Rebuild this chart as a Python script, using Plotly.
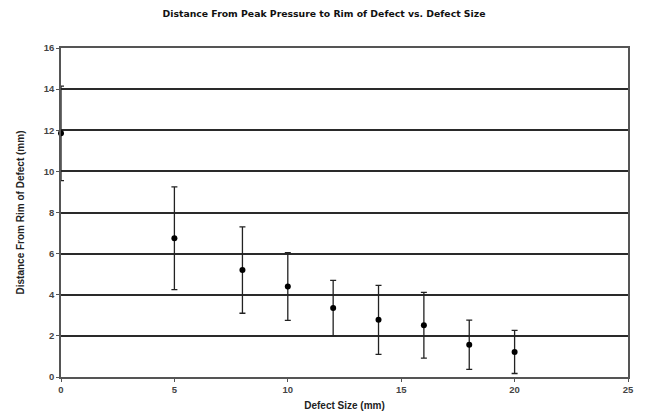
import plotly.graph_objects as go

defect_size = [0, 5, 8, 10, 12, 14, 16, 18, 20]
distance = [11.85, 6.75, 5.2, 4.4, 3.35, 2.78, 2.52, 1.57, 1.22]
error = [2.3, 2.5, 2.1, 1.65, 1.35, 1.68, 1.6, 1.2, 1.05]

x_ticks = [0, 5, 10, 15, 20, 25]
y_ticks = [0, 2, 4, 6, 8, 10, 12, 14, 16]

fig = go.Figure()
fig.add_trace(go.Scatter(
    x=defect_size, y=distance, mode="markers",
    marker=dict(color="black", size=6),
    error_y=dict(type="data", array=error, visible=True, color="#222222",
                 thickness=1.3, width=3),
    showlegend=False, cliponaxis=False,
))

fig.update_layout(
    width=648, height=416,
    margin=dict(l=61, r=20, t=48, b=39, autoexpand=False),
    paper_bgcolor="white", plot_bgcolor="white",
    font=dict(family="Liberation Sans, Arial, sans-serif", color="#222222"),
    title=dict(text="<b>Distance From Peak Pressure to Rim of Defect vs. Defect Size</b>",
               x=0.5, xanchor="center", y=0.966, yanchor="middle",
               font=dict(size=9.3, color="#111111", family="DejaVu Sans, sans-serif")),
)
fig.update_xaxes(
    range=[0, 25], tickvals=x_ticks, ticktext=["<b>%d</b>" % v for v in x_ticks],
    showgrid=False, zeroline=False, automargin=False,
    showline=True, linecolor="#555555", linewidth=1.5, mirror=True,
    ticks="outside", ticklen=3, tickcolor="#555555",
    tickfont=dict(size=9.5, color="#444444"),
    title=dict(text="<b>Defect Size (mm)</b>", font=dict(size=10, color="#222222"), standoff=8),
)
fig.update_yaxes(
    range=[0, 16], tickvals=y_ticks, ticktext=["<b>%d</b>" % v for v in y_ticks],
    showgrid=True, gridcolor="#2a2a2a", gridwidth=1.7, zeroline=False, automargin=False,
    showline=True, linecolor="#555555", linewidth=1.5, mirror=True,
    ticks="outside", ticklen=3, tickcolor="#555555",
    tickfont=dict(size=9.5, color="#444444"),
    title=dict(text="<b>Distance From Rim of Defect (mm)</b>", font=dict(size=10, color="#222222"), standoff=17),
)

fig.write_html("out.html", config={"displayModeBar": False},
               post_script="document.body.style.margin='0';")
